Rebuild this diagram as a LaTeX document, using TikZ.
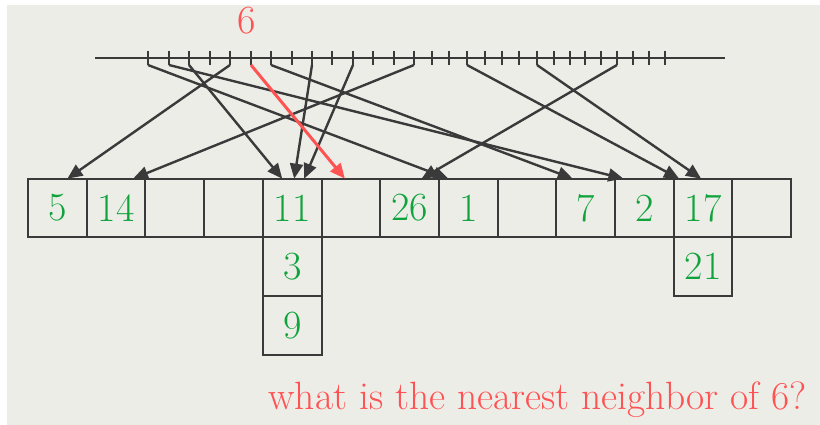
\documentclass[tikz,border=0pt]{standalone}
\usepackage{tikz}
\usepackage{xcolor}
\usetikzlibrary{arrows.meta,positioning,calc}
\definecolor{paperGray}{RGB}{237,237,232}
\definecolor{lineGray}{RGB}{58,58,58}
\definecolor{keyGreen}{RGB}{16,163,60}
\definecolor{queryRed}{RGB}{255,82,82}

\begin{document}
\begin{tikzpicture}[
            x=1pt, y=-1pt,
            >={Triangle[length=15pt,width=13pt]},
            bucket/.style={rectangle, draw=lineGray, line width=2pt, outer sep=0pt, inner sep=0pt, minimum width=58.7pt, minimum height=58.7pt, font=\fontsize{40}{44}\selectfont, text=keyGreen},
            tick/.style={draw=lineGray, line width=2.2pt},
            hashline/.style={->, draw=lineGray, fill=lineGray, line width=2.4pt},
            query/.style={->, draw=queryRed, fill=queryRed, line width=3pt}
        ]
            \useasboundingbox (0,0) rectangle (820,425);
            \fill[paperGray] (7,5) rectangle (820,425);

            % number line
            \draw[tick] (95,58) -- (725,58);
            \foreach \x in {148,169,189,210,230,251,271,292,312,332,353,373,394,414,432,449,467,485,502,519,537,554,570,585,601,617,633,649,665}
                \draw[tick] (\x,51) -- (\x,65);
            \foreach \x in {148,169,189,230,251,271,312,353,414,467,537,617}
                \coordinate (t\x) at (\x,65);

            % hash table
            \foreach \v [count=\i from 0] in {5,14,,,11,,26,1,,7,2,17,}
                \node[bucket] (c\i) at ({57.4+58.7*\i},208) {\v};
            \node[bucket, below=0pt of c4] (c4a) {3};
            \node[bucket, below=0pt of c4a] (c4b) {9};
            \node[bucket, below=0pt of c11] (c11a) {21};

            \draw[hashline] (t230) -- ($(c0.north)+(10,0)$);
            \draw[hashline] (t414) -- ($(c1.north)+(17,0)$);
            \draw[hashline] (t189) -- ($(c4.north)+(-10,0)$);
            \draw[hashline] (t312) -- ($(c4.north)+(2,0)$);
            \draw[hashline] (t353) -- ($(c4.north)+(12,0)$);
            \draw[hashline] (t617) -- ($(c6.north)+(12,0)$);
            \draw[hashline] (t148) -- ($(c7.north)+(-20,0)$);
            \draw[hashline] (t271) -- ($(c9.north)+(-13,0)$);
            \draw[hashline] (t169) -- ($(c10.north)+(-21,0)$);
            \draw[hashline] (t467) -- ($(c11.north)+(-24,0)$);
            \draw[hashline] (t537) -- ($(c11.north)+(-2,0)$);

            % query
            \node[text=queryRed, font=\fontsize{40}{44}\selectfont] (q) at (247,21) {6};
            \draw[query] (t251) -- ($(c5.north)+(-6,0)$);
            \node[text=queryRed, font=\fontsize{39.5}{44}\selectfont, anchor=base west] (ask) at (265,409) {what is the nearest neighbor of 6?};
            \end{tikzpicture}
\end{document}
